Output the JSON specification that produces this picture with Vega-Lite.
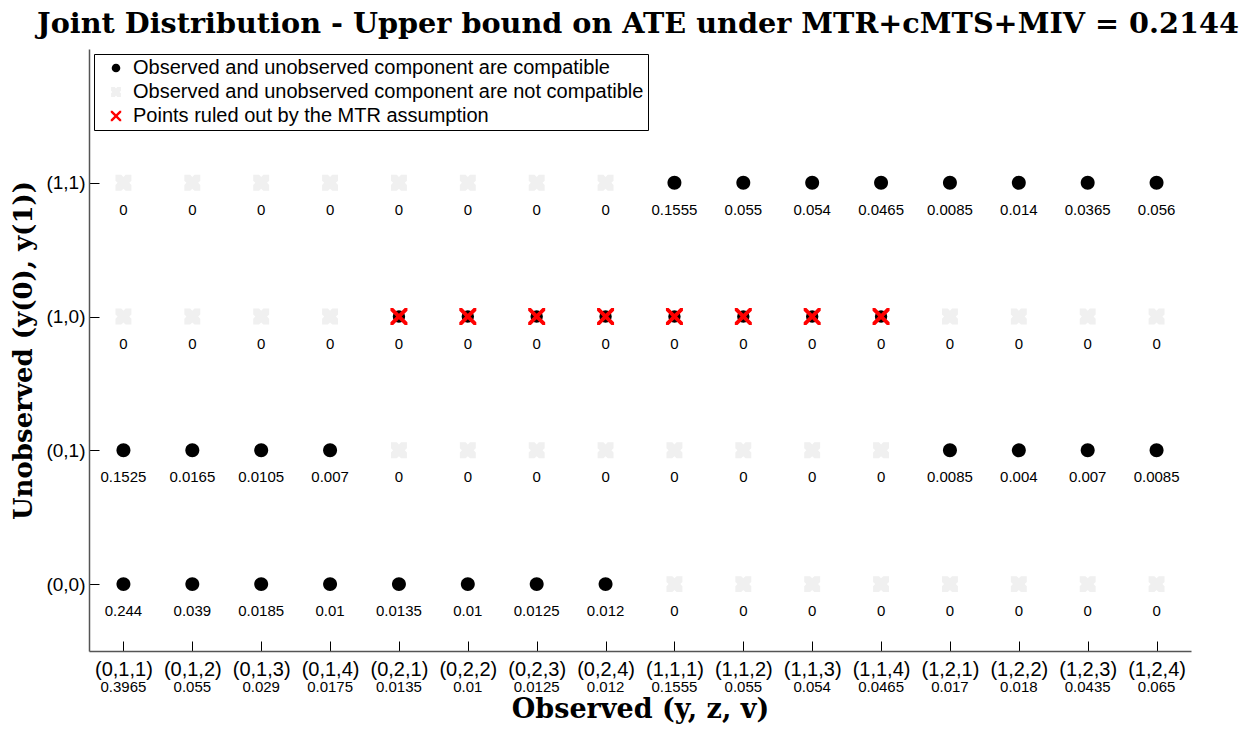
{
  "$schema": "https://vega.github.io/schema/vega-lite/v6.json",
  "padding": {"left": 10, "top": 10, "right": 10, "bottom": 10},
  "background": "white",
  "title": {
    "text": "Joint Distribution - Upper bound on ATE under MTR+cMTS+MIV = 0.2144",
    "font": "DejaVu Serif",
    "fontSize": 28.7,
    "fontWeight": "bold",
    "color": "black",
    "anchor": "middle",
    "dx": 37,
    "offset": 10
  },
  "datasets": {
    "cells": [
      {"obs": "(0,1,1)", "unobs": "(1,1)", "value": 0, "status": "n"},
      {"obs": "(0,1,2)", "unobs": "(1,1)", "value": 0, "status": "n"},
      {"obs": "(0,1,3)", "unobs": "(1,1)", "value": 0, "status": "n"},
      {"obs": "(0,1,4)", "unobs": "(1,1)", "value": 0, "status": "n"},
      {"obs": "(0,2,1)", "unobs": "(1,1)", "value": 0, "status": "n"},
      {"obs": "(0,2,2)", "unobs": "(1,1)", "value": 0, "status": "n"},
      {"obs": "(0,2,3)", "unobs": "(1,1)", "value": 0, "status": "n"},
      {"obs": "(0,2,4)", "unobs": "(1,1)", "value": 0, "status": "n"},
      {"obs": "(1,1,1)", "unobs": "(1,1)", "value": 0.1555, "status": "c"},
      {"obs": "(1,1,2)", "unobs": "(1,1)", "value": 0.055, "status": "c"},
      {"obs": "(1,1,3)", "unobs": "(1,1)", "value": 0.054, "status": "c"},
      {"obs": "(1,1,4)", "unobs": "(1,1)", "value": 0.0465, "status": "c"},
      {"obs": "(1,2,1)", "unobs": "(1,1)", "value": 0.0085, "status": "c"},
      {"obs": "(1,2,2)", "unobs": "(1,1)", "value": 0.014, "status": "c"},
      {"obs": "(1,2,3)", "unobs": "(1,1)", "value": 0.0365, "status": "c"},
      {"obs": "(1,2,4)", "unobs": "(1,1)", "value": 0.056, "status": "c"},

      {"obs": "(0,1,1)", "unobs": "(1,0)", "value": 0, "status": "n"},
      {"obs": "(0,1,2)", "unobs": "(1,0)", "value": 0, "status": "n"},
      {"obs": "(0,1,3)", "unobs": "(1,0)", "value": 0, "status": "n"},
      {"obs": "(0,1,4)", "unobs": "(1,0)", "value": 0, "status": "n"},
      {"obs": "(0,2,1)", "unobs": "(1,0)", "value": 0, "status": "m"},
      {"obs": "(0,2,2)", "unobs": "(1,0)", "value": 0, "status": "m"},
      {"obs": "(0,2,3)", "unobs": "(1,0)", "value": 0, "status": "m"},
      {"obs": "(0,2,4)", "unobs": "(1,0)", "value": 0, "status": "m"},
      {"obs": "(1,1,1)", "unobs": "(1,0)", "value": 0, "status": "m"},
      {"obs": "(1,1,2)", "unobs": "(1,0)", "value": 0, "status": "m"},
      {"obs": "(1,1,3)", "unobs": "(1,0)", "value": 0, "status": "m"},
      {"obs": "(1,1,4)", "unobs": "(1,0)", "value": 0, "status": "m"},
      {"obs": "(1,2,1)", "unobs": "(1,0)", "value": 0, "status": "n"},
      {"obs": "(1,2,2)", "unobs": "(1,0)", "value": 0, "status": "n"},
      {"obs": "(1,2,3)", "unobs": "(1,0)", "value": 0, "status": "n"},
      {"obs": "(1,2,4)", "unobs": "(1,0)", "value": 0, "status": "n"},

      {"obs": "(0,1,1)", "unobs": "(0,1)", "value": 0.1525, "status": "c"},
      {"obs": "(0,1,2)", "unobs": "(0,1)", "value": 0.0165, "status": "c"},
      {"obs": "(0,1,3)", "unobs": "(0,1)", "value": 0.0105, "status": "c"},
      {"obs": "(0,1,4)", "unobs": "(0,1)", "value": 0.007, "status": "c"},
      {"obs": "(0,2,1)", "unobs": "(0,1)", "value": 0, "status": "n"},
      {"obs": "(0,2,2)", "unobs": "(0,1)", "value": 0, "status": "n"},
      {"obs": "(0,2,3)", "unobs": "(0,1)", "value": 0, "status": "n"},
      {"obs": "(0,2,4)", "unobs": "(0,1)", "value": 0, "status": "n"},
      {"obs": "(1,1,1)", "unobs": "(0,1)", "value": 0, "status": "n"},
      {"obs": "(1,1,2)", "unobs": "(0,1)", "value": 0, "status": "n"},
      {"obs": "(1,1,3)", "unobs": "(0,1)", "value": 0, "status": "n"},
      {"obs": "(1,1,4)", "unobs": "(0,1)", "value": 0, "status": "n"},
      {"obs": "(1,2,1)", "unobs": "(0,1)", "value": 0.0085, "status": "c"},
      {"obs": "(1,2,2)", "unobs": "(0,1)", "value": 0.004, "status": "c"},
      {"obs": "(1,2,3)", "unobs": "(0,1)", "value": 0.007, "status": "c"},
      {"obs": "(1,2,4)", "unobs": "(0,1)", "value": 0.0085, "status": "c"},

      {"obs": "(0,1,1)", "unobs": "(0,0)", "value": 0.244, "status": "c"},
      {"obs": "(0,1,2)", "unobs": "(0,0)", "value": 0.039, "status": "c"},
      {"obs": "(0,1,3)", "unobs": "(0,0)", "value": 0.0185, "status": "c"},
      {"obs": "(0,1,4)", "unobs": "(0,0)", "value": 0.01, "status": "c"},
      {"obs": "(0,2,1)", "unobs": "(0,0)", "value": 0.0135, "status": "c"},
      {"obs": "(0,2,2)", "unobs": "(0,0)", "value": 0.01, "status": "c"},
      {"obs": "(0,2,3)", "unobs": "(0,0)", "value": 0.0125, "status": "c"},
      {"obs": "(0,2,4)", "unobs": "(0,0)", "value": 0.012, "status": "c"},
      {"obs": "(1,1,1)", "unobs": "(0,0)", "value": 0, "status": "n"},
      {"obs": "(1,1,2)", "unobs": "(0,0)", "value": 0, "status": "n"},
      {"obs": "(1,1,3)", "unobs": "(0,0)", "value": 0, "status": "n"},
      {"obs": "(1,1,4)", "unobs": "(0,0)", "value": 0, "status": "n"},
      {"obs": "(1,2,1)", "unobs": "(0,0)", "value": 0, "status": "n"},
      {"obs": "(1,2,2)", "unobs": "(0,0)", "value": 0, "status": "n"},
      {"obs": "(1,2,3)", "unobs": "(0,0)", "value": 0, "status": "n"},
      {"obs": "(1,2,4)", "unobs": "(0,0)", "value": 0, "status": "n"}
    ],
    "margins": [
      {"obs": "(0,1,1)", "marginal": 0.3965},
      {"obs": "(0,1,2)", "marginal": 0.055},
      {"obs": "(0,1,3)", "marginal": 0.029},
      {"obs": "(0,1,4)", "marginal": 0.0175},
      {"obs": "(0,2,1)", "marginal": 0.0135},
      {"obs": "(0,2,2)", "marginal": 0.01},
      {"obs": "(0,2,3)", "marginal": 0.0125},
      {"obs": "(0,2,4)", "marginal": 0.012},
      {"obs": "(1,1,1)", "marginal": 0.1555},
      {"obs": "(1,1,2)", "marginal": 0.055},
      {"obs": "(1,1,3)", "marginal": 0.054},
      {"obs": "(1,1,4)", "marginal": 0.0465},
      {"obs": "(1,2,1)", "marginal": 0.017},
      {"obs": "(1,2,2)", "marginal": 0.018},
      {"obs": "(1,2,3)", "marginal": 0.0435},
      {"obs": "(1,2,4)", "marginal": 0.065}
    ]
  },
  "vconcat": [
    {
      "width": 1102,
      "height": 602,
      "data": {"name": "cells"},
      "encoding": {
        "x": {
          "field": "obs",
          "type": "nominal",
          "scale": {
            "type": "point",
            "padding": 0.5,
            "domain": ["(0,1,1)", "(0,1,2)", "(0,1,3)", "(0,1,4)", "(0,2,1)", "(0,2,2)", "(0,2,3)", "(0,2,4)", "(1,1,1)", "(1,1,2)", "(1,1,3)", "(1,1,4)", "(1,2,1)", "(1,2,2)", "(1,2,3)", "(1,2,4)"]
          },
          "axis": {
            "title": null,
            "labelAngle": 0,
            "labelFont": "Liberation Sans",
            "labelFontSize": 20,
            "labelColor": "black",
            "labelPadding": 18,
            "tickSize": -10,
            "tickColor": "black",
            "domainColor": "#555555",
            "domainWidth": 1.5,
            "grid": false
          }
        },
        "y": {
          "field": "unobs",
          "type": "ordinal",
          "scale": {
            "type": "point",
            "domain": ["(1,1)", "(1,0)", "(0,1)", "(0,0)"],
            "padding": 0.75,
            "align": 0.6667
          },
          "axis": {
            "title": "Unobserved (y(0), y(1))",
            "titleFont": "DejaVu Serif",
            "titleFontSize": 26,
            "titleFontWeight": "bold",
            "titleColor": "black",
            "titlePadding": 9,
            "labelFont": "Liberation Sans",
            "labelFontSize": 19,
            "labelColor": "black",
            "labelPadding": 14,
            "tickSize": -10,
            "tickColor": "black",
            "domainColor": "#555555",
            "domainWidth": 1.5,
            "grid": false
          }
        }
      },
      "layer": [
        {
          "transform": [{"filter": "datum.status === 'm'"}],
          "mark": {"type": "point", "shape": "circle", "filled": true, "color": "black", "opacity": 1, "size": 154}
        },
        {
          "mark": {"type": "point", "filled": true, "opacity": 1, "size": 289, "strokeWidth": 0},
          "encoding": {
            "shape": {
              "field": "status",
              "type": "nominal",
              "scale": {
                "domain": ["c", "n", "m"],
                "range": [
                  "M0.82,0A0.82,0.82,0,1,1,-0.82,0A0.82,0.82,0,1,1,0.82,0Z",
                  "M-0.94,-0.94L-0.25,-0.94L0,-0.69L0.25,-0.94L0.94,-0.94L0.94,-0.25L0.69,0L0.94,0.25L0.94,0.94L0.25,0.94L0,0.69L-0.25,0.94L-0.94,0.94L-0.94,0.25L-0.69,0L-0.94,-0.25Z",
                  "M-1,-1L-0.68,-1L0,-0.32L0.68,-1L1,-1L1,-0.68L0.32,0L1,0.68L1,1L0.68,1L0,0.32L-0.68,1L-1,1L-1,0.68L-0.32,0L-1,-0.68Z"
                ]
              },
              "legend": {
                "title": null,
                "orient": "top-left",
                "offset": 5,
                "labelExpr": "datum.value === 'c' ? 'Observed and unobserved component are compatible' : datum.value === 'n' ? 'Observed and unobserved component are not compatible' : 'Points ruled out by the MTR assumption'",
                "labelFont": "Liberation Sans",
                "labelFontSize": 20,
                "labelColor": "black",
                "labelLimit": 0,
                "labelOffset": 7,
                "symbolSize": 110,
                "symbolOffset": 8,
                "rowPadding": 4,
                "padding": 4,
                "strokeColor": "black",
                "fillColor": "white"
              }
            },
            "color": {
              "field": "status",
              "type": "nominal",
              "scale": {"domain": ["c", "n", "m"], "range": ["#000000", "#f0f0f0", "#ff0000"]},
              "legend": {
                "title": null,
                "orient": "top-left",
                "offset": 5,
                "labelExpr": "datum.value === 'c' ? 'Observed and unobserved component are compatible' : datum.value === 'n' ? 'Observed and unobserved component are not compatible' : 'Points ruled out by the MTR assumption'",
                "labelFont": "Liberation Sans",
                "labelFontSize": 20,
                "labelColor": "black",
                "labelLimit": 0,
                "labelOffset": 7,
                "symbolSize": 110,
                "symbolOffset": 8,
                "rowPadding": 4,
                "padding": 4,
                "strokeColor": "black",
                "fillColor": "white"
              }
            }
          }
        },
        {
          "mark": {"type": "text", "dy": 27, "font": "Liberation Sans", "fontSize": 15, "color": "black"},
          "encoding": {"text": {"field": "value", "type": "nominal"}}
        }
      ]
    },
    {
      "width": 1102,
      "height": 16,
      "data": {"name": "margins"},
      "mark": {"type": "text", "font": "Liberation Sans", "fontSize": 15, "color": "black"},
      "encoding": {
        "x": {
          "field": "obs",
          "type": "nominal",
          "scale": {
            "type": "point",
            "padding": 0.5,
            "domain": ["(0,1,1)", "(0,1,2)", "(0,1,3)", "(0,1,4)", "(0,2,1)", "(0,2,2)", "(0,2,3)", "(0,2,4)", "(1,1,1)", "(1,1,2)", "(1,1,3)", "(1,1,4)", "(1,2,1)", "(1,2,2)", "(1,2,3)", "(1,2,4)"]
          },
          "axis": {
            "title": "Observed (y, z, v)",
            "titleFont": "DejaVu Serif",
            "titleFontSize": 27,
            "titleFontWeight": "bold",
            "titleColor": "black",
            "titlePadding": 1,
            "labels": false,
            "ticks": false,
            "domain": false,
            "grid": false
          }
        },
        "text": {"field": "marginal", "type": "nominal"}
      }
    }
  ],
  "spacing": 0,
  "resolve": {"legend": {"color": "independent", "shape": "independent"}},
  "config": {"view": {"stroke": null}}
}
